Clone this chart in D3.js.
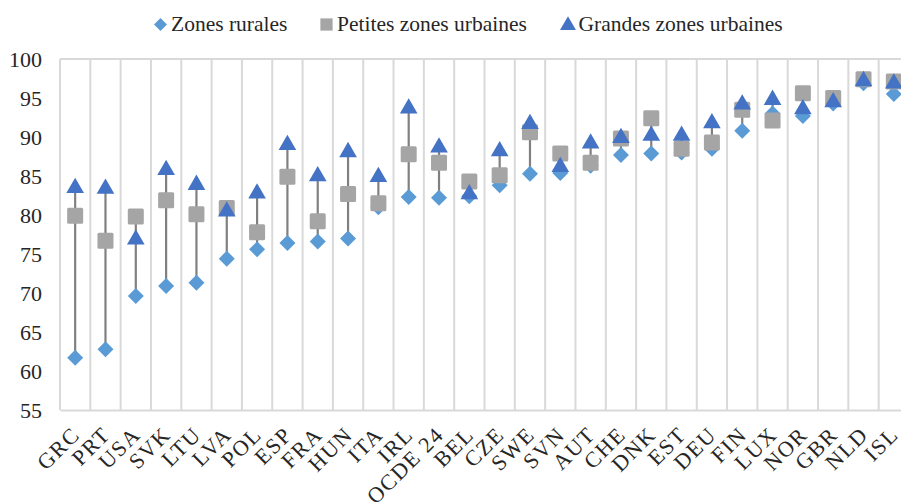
<!DOCTYPE html>
<html>
<head>
<meta charset="utf-8">
<script src="https://cdn.jsdelivr.net/npm/d3@7"></script>
<style>
  body { margin: 0; background: #fff; }
</style>
</head>
<body>
<svg width="901" height="502"></svg>
<script>
var countries = ["GRC", "PRT", "USA", "SVK", "LTU", "LVA", "POL", "ESP", "FRA", "HUN", "ITA", "IRL", "OCDE 24", "BEL",
  "CZE", "SWE", "SVN", "AUT", "CHE", "DNK", "EST", "DEU", "FIN", "LUX", "NOR", "GBR", "NLD", "ISL"];

var rural = [61.7, 62.8, 69.6, 70.9, 71.3, 74.4, 75.6, 76.4, 76.6, 77.0, 81.0, 82.3, 82.2, 82.4,
  83.8, 85.3, 85.4, 86.3, 87.7, 87.9, 88.0, 88.5, 90.8, 93.0, 92.7, 94.3, 96.9, 95.5];
var smallUrban = [79.9, 76.7, 79.8, 81.9, 80.1, 80.9, 77.8, 84.9, 79.2, 82.7, 81.5, 87.8, 86.7, 84.3,
  85.1, 90.6, 87.9, 86.7, 89.8, 92.4, 88.5, 89.3, 93.5, 92.1, 95.6, 95.0, 97.4, 97.1];
var largeUrban = [83.6, 83.5, 77.0, 85.9, 84.0, 80.6, 82.9, 89.1, 85.1, 88.2, 85.0, 93.8, 88.8, 82.8,
  88.3, 91.8, 86.3, 89.3, 90.0, 90.3, 90.3, 91.9, 94.3, 94.9, 93.7, 94.6, 97.3, 97.0];

var yTicks = [55, 60, 65, 70, 75, 80, 85, 90, 95, 100];
var seriesNames = ["Zones rurales", "Petites zones urbaines", "Grandes zones urbaines"];

var svg = d3.select("svg"),
    plotLeft = 60, plotRight = 909, plotTop = 59, plotBottom = 410,
    font = "'Liberation Serif', 'Times New Roman', serif";

var x = d3.scaleBand().domain(countries).range([plotLeft, plotRight]);
var y = d3.scaleLinear().domain([55, 100]).range([plotBottom, plotTop]);

var data = countries.map(function(c, i) {
  return {name: c, rural: rural[i], small: smallUrban[i], large: largeUrban[i]};
});

var grid = "#d9d9d9";
var colRural = "#5b9bd5", colSmall = "#a5a5a5", colLarge = "#4472c4";

// vertical grid at category edges
svg.append("g").selectAll("line")
  .data(countries)
  .enter().append("line")
    .attr("x1", function(d) { return x(d); })
    .attr("x2", function(d) { return x(d); })
    .attr("y1", plotTop)
    .attr("y2", plotBottom)
    .attr("stroke", grid)
    .attr("stroke-width", 2);

svg.append("line")
    .attr("x1", plotLeft).attr("x2", plotRight)
    .attr("y1", y(100)).attr("y2", y(100))
    .attr("stroke", grid).attr("stroke-width", 2);

// y axis labels
var yAxis = svg.append("g")
    .attr("transform", "translate(" + plotLeft + ",0)")
    .call(d3.axisLeft(y).tickValues(yTicks).tickSize(0).tickPadding(18));
yAxis.select(".domain").remove();
yAxis.selectAll("text")
    .style("font-family", font)
    .style("font-size", "22px")
    .attr("fill", "#262626");

// x axis
var xAxis = svg.append("g")
    .attr("transform", "translate(0," + plotBottom + ")")
    .call(d3.axisBottom(x).tickSize(0).tickPadding(0));
xAxis.select(".domain")
    .attr("stroke", grid)
    .attr("stroke-width", 2);
xAxis.selectAll("text")
    .style("font-family", font)
    .style("font-size", "22px")
    .style("letter-spacing", "1.5px")
    .attr("fill", "#262626")
    .attr("text-anchor", "end")
    .attr("dy", "0")
    .attr("transform", "translate(6,26) rotate(-45)");

// high-low lines
var cx = function(d) { return x(d.name) + x.bandwidth() / 2; };
svg.append("g").selectAll("line")
  .data(data)
  .enter().append("line")
    .attr("x1", cx).attr("x2", cx)
    .attr("y1", function(d) { return y(Math.max(d.rural, d.small, d.large)); })
    .attr("y2", function(d) { return y(Math.min(d.rural, d.small, d.large)); })
    .attr("stroke", "#808080")
    .attr("stroke-width", 2.2);

var diamond = d3.symbol().type(d3.symbolSquare).size(128);
var tri = d3.symbol().type(d3.symbolTriangle).size(135);

svg.append("g").selectAll("path")
  .data(data)
  .enter().append("path")
    .attr("d", diamond)
    .attr("transform", function(d) { return "translate(" + cx(d) + "," + y(d.rural) + ") rotate(45)"; })
    .attr("fill", colRural);

svg.append("g").selectAll("rect")
  .data(data)
  .enter().append("rect")
    .attr("x", function(d) { return cx(d) - 8; })
    .attr("y", function(d) { return y(d.small) - 8; })
    .attr("width", 16).attr("height", 16)
    .attr("rx", 1.5)
    .attr("fill", colSmall);

svg.append("g").selectAll("path")
  .data(data)
  .enter().append("path")
    .attr("d", tri)
    .attr("transform", function(d) { return "translate(" + cx(d) + "," + (y(d.large) + 1) + ")"; })
    .attr("fill", colLarge);

// legend
var legendX = [160.5, 326.5, 568];
var legend = svg.append("g").selectAll("g")
  .data(seriesNames)
  .enter().append("g")
    .attr("transform", function(d, i) { return "translate(" + legendX[i] + ",24.5)"; });

legend.append("path")
    .attr("d", function(d, i) {
      if (i === 0) return d3.symbol().type(d3.symbolSquare).size(84)();
      if (i === 1) return d3.symbol().type(d3.symbolSquare).size(150)();
      return d3.symbol().type(d3.symbolTriangle).size(110)();
    })
    .attr("transform", function(d, i) { return i === 0 ? "rotate(45)" : (i === 2 ? "translate(0,1)" : ""); })
    .attr("fill", function(d, i) { return [colRural, colSmall, colLarge][i]; });

legend.append("text")
    .attr("x", 10.5)
    .attr("y", 6.5)
    .style("font-family", font)
    .style("font-size", "21.5px")
    .attr("fill", "#262626")
    .text(function(d) { return d; });
</script>
</body>
</html>
